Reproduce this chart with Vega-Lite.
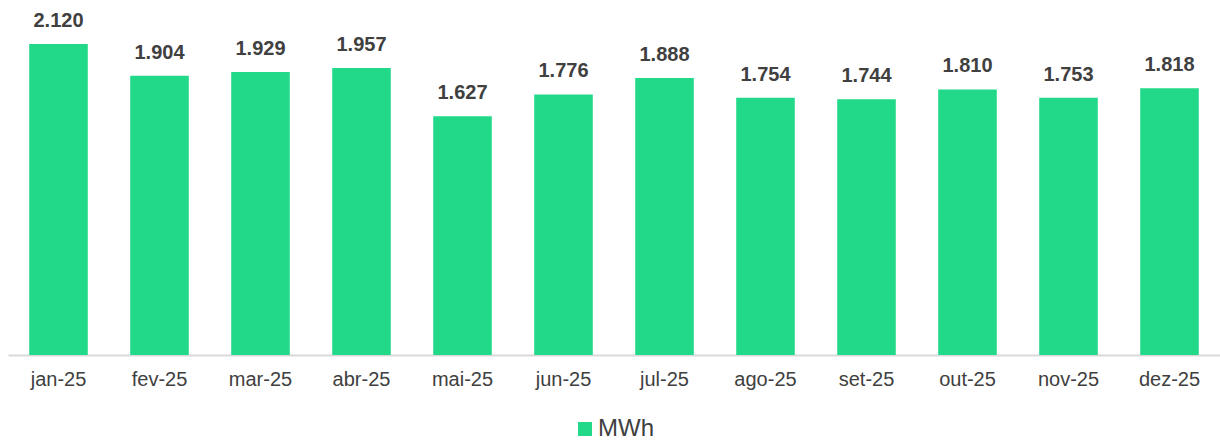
{
  "$schema": "https://vega.github.io/schema/vega-lite/v6.json",
  "width": 1212,
  "height": 355,
  "autosize": {"type": "none"},
  "padding": {"left": 8, "top": 0, "right": 0, "bottom": 88},
  "background": "white",
  "data": {
    "values": [
      {"mes": "jan-25", "MWh": 2120},
      {"mes": "fev-25", "MWh": 1904},
      {"mes": "mar-25", "MWh": 1929},
      {"mes": "abr-25", "MWh": 1957},
      {"mes": "mai-25", "MWh": 1627},
      {"mes": "jun-25", "MWh": 1776},
      {"mes": "jul-25", "MWh": 1888},
      {"mes": "ago-25", "MWh": 1754},
      {"mes": "set-25", "MWh": 1744},
      {"mes": "out-25", "MWh": 1810},
      {"mes": "nov-25", "MWh": 1753},
      {"mes": "dez-25", "MWh": 1818}
    ]
  },
  "encoding": {
    "x": {
      "field": "mes",
      "type": "nominal",
      "sort": null,
      "scale": {"paddingInner": 0.42, "paddingOuter": 0.21},
      "axis": {
        "title": null,
        "labelAngle": 0,
        "labelFont": "Liberation Sans",
        "labelFontSize": 20,
        "labelColor": "#404040",
        "labelPadding": 14,
        "ticks": false,
        "domainColor": "#d9d9d9",
        "domainWidth": 2
      }
    },
    "y": {
      "field": "MWh",
      "type": "quantitative",
      "scale": {"domain": [0, 2420], "nice": false},
      "axis": null
    }
  },
  "layer": [
    {
      "mark": {"type": "bar", "color": "#22d98a"},
      "encoding": {
        "color": {
          "datum": "MWh",
          "type": "nominal",
          "scale": {"range": ["#22d98a"]},
          "legend": {
            "title": null,
            "orient": "none",
            "legendX": 565,
            "legendY": 417,
            "direction": "horizontal",
            "symbolType": "square",
            "symbolSize": 196,
            "symbolStrokeWidth": 0,
            "labelFont": "Liberation Sans",
            "labelFontSize": 24,
            "labelColor": "#404040",
            "labelOffset": 1
          }
        }
      }
    },
    {
      "mark": {
        "type": "text",
        "baseline": "alphabetic",
        "dy": -17,
        "font": "Liberation Sans",
        "fontSize": 20,
        "fontWeight": "bold",
        "color": "#404040"
      },
      "encoding": {
        "text": {"field": "MWh", "type": "quantitative", "format": ",d"}
      }
    }
  ],
  "config": {
    "view": {"stroke": null},
    "locale": {
      "number": {"decimal": ",", "thousands": ".", "grouping": [3], "currency": ["R$", ""]}
    }
  }
}
